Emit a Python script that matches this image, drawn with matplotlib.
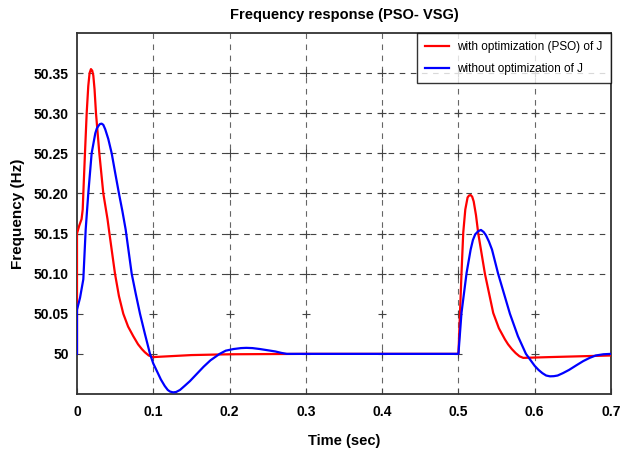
import numpy as np
import matplotlib
matplotlib.use('Agg')
import matplotlib.pyplot as plt

plt.rcParams['font.family'] = ['Liberation Sans', 'DejaVu Sans']

# Data
t_pso = [0.0, 0.0, 0.003, 0.006, 0.0075, 0.0083, 0.0105, 0.0127, 0.0148, 0.0165,
         0.0183, 0.020, 0.0214, 0.023, 0.0249, 0.0293, 0.0345, 0.040, 0.0424, 0.0498,
         0.055, 0.0607, 0.067, 0.0738, 0.080, 0.085, 0.089, 0.094, 0.100, 0.120,
         0.150, 0.200, 0.300, 0.500,
         0.504, 0.5063, 0.509, 0.512, 0.514, 0.516, 0.518, 0.520, 0.523, 0.526,
         0.5347, 0.5456, 0.553, 0.561, 0.565, 0.570, 0.575, 0.580, 0.585, 0.620,
         0.660, 0.700]
f_pso = [50.0, 50.150, 50.160, 50.168, 50.180, 50.200, 50.251, 50.300, 50.334, 50.350,
         50.355, 50.353, 50.347, 50.330, 50.300, 50.250, 50.200, 50.168, 50.151, 50.100,
         50.072, 50.050, 50.034, 50.022, 50.012, 50.006, 50.002, 49.998, 49.996, 49.997,
         49.9985, 49.9995, 50.0, 50.0,
         50.100, 50.151, 50.180, 50.195, 50.1975, 50.198, 50.196, 50.190, 50.173, 50.150,
         50.100, 50.051, 50.032, 50.018, 50.012, 50.006, 50.001, 49.997, 49.995, 49.996,
         49.997, 49.998]

t_base = [0.0, 0.0, 0.004, 0.0083, 0.0114, 0.0148, 0.0192, 0.024, 0.026, 0.028,
          0.030, 0.0323, 0.0345, 0.037, 0.041, 0.0455, 0.050, 0.055, 0.0595, 0.0638,
          0.0717, 0.077, 0.0826, 0.089, 0.0957, 0.100, 0.105, 0.110, 0.115, 0.119,
          0.122, 0.126, 0.130, 0.135, 0.141, 0.148, 0.166, 0.175, 0.187, 0.195,
          0.205, 0.215, 0.222, 0.230, 0.240, 0.250, 0.260, 0.268, 0.275, 0.300,
          0.500,
          0.504, 0.5107, 0.516, 0.519, 0.522, 0.526, 0.5295, 0.533, 0.536, 0.540,
          0.544, 0.552, 0.5675, 0.578, 0.5885, 0.600, 0.605, 0.610, 0.615, 0.620,
          0.625, 0.630, 0.637, 0.645, 0.655, 0.6636, 0.672, 0.680, 0.690, 0.700]
f_base = [50.0, 50.055, 50.070, 50.093, 50.155, 50.200, 50.250, 50.275, 50.281, 50.284,
          50.2865, 50.287, 50.2855, 50.280, 50.268, 50.250, 50.226, 50.200, 50.178, 50.155,
          50.100, 50.075, 50.050, 50.025, 50.000, 49.988, 49.978, 49.968, 49.960, 49.955,
          49.953, 49.952, 49.9525, 49.955, 49.960, 49.966, 49.984, 49.992, 50.000, 50.004,
          50.006, 50.0072, 50.0075, 50.0072, 50.006, 50.0045, 50.003, 50.0012, 50.000, 50.0,
          50.0,
          50.051, 50.101, 50.130, 50.142, 50.149, 50.153, 50.1545, 50.152, 50.148, 50.140,
          50.130, 50.100, 50.050, 50.022, 50.000, 49.985, 49.980, 49.976, 49.973, 49.972,
          49.9722, 49.973, 49.976, 49.980, 49.986, 49.991, 49.995, 49.998, 49.9995, 50.000]

x_ticks = [0, 0.1, 0.2, 0.3, 0.4, 0.5, 0.6, 0.7]
x_labels = ['0', '0.1', '0.2', '0.3', '0.4', '0.5', '0.6', '0.7']
y_ticks = [50.0, 50.05, 50.10, 50.15, 50.20, 50.25, 50.30, 50.35]
y_labels = ['50', '50.05', '50.10', '50.15', '50.20', '50.25', '50.30', '50.35']
y_grid = [50.10, 50.15, 50.20, 50.25, 50.30, 50.35]

fig = plt.figure(figsize=(6.29, 4.54), dpi=100)
ax = fig.add_axes([0.1224, 0.1322, 0.849, 0.7951])

grid_col = '#444444'
for x in x_ticks[1:-1]:
    ax.axvline(x, color='#666666', lw=0.8, ls=(0, (5, 5)), zorder=1)
for y in y_grid:
    ax.axhline(y, color=grid_col, lw=0.8, ls=(0, (5, 5)), zorder=1)
gx, gy = np.meshgrid(x_ticks[1:-1], y_ticks)
ax.plot(gx.ravel(), gy.ravel(), '+', color=grid_col, ms=6, mew=0.8, zorder=1)

ax.plot(t_pso, f_pso, color='#ff0000', lw=1.6, label='with optimization (PSO) of J', zorder=3)
ax.plot(t_base, f_base, color='#0000ff', lw=1.6, label='without optimization of J', zorder=3)

ax.set_xlim(0, 0.7)
ax.set_ylim(49.95, 50.40)
ax.set_xticks(x_ticks)
ax.set_xticklabels(x_labels)
ax.set_yticks(y_ticks)
ax.set_yticklabels(y_labels)
ax.tick_params(direction='in', length=4, width=0.8, color=grid_col, labelsize=10)
ax.tick_params(axis='x', pad=8)
ax.tick_params(axis='y', pad=6)
for lab in ax.get_xticklabels() + ax.get_yticklabels():
    lab.set_fontweight('bold')
for sp in ax.spines.values():
    sp.set_color('#333333')
    sp.set_linewidth(1.3)

ax.set_title('Frequency response (PSO- VSG)', fontsize=10.5, fontweight='bold', pad=10)
ax.set_xlabel('Time (sec)', fontsize=10.5, fontweight='bold', labelpad=11)
ax.set_ylabel('Frequency (Hz)', fontsize=11, fontweight='bold', labelpad=6)

leg = ax.legend(loc='upper right', fontsize=8.5, frameon=True, fancybox=False,
                borderaxespad=0, handlelength=2.0, handletextpad=0.7,
                borderpad=0.7, labelspacing=0.8)
leg.get_frame().set_edgecolor('black')
leg.get_frame().set_linewidth(1.0)

fig.savefig('out.png', dpi=100)
